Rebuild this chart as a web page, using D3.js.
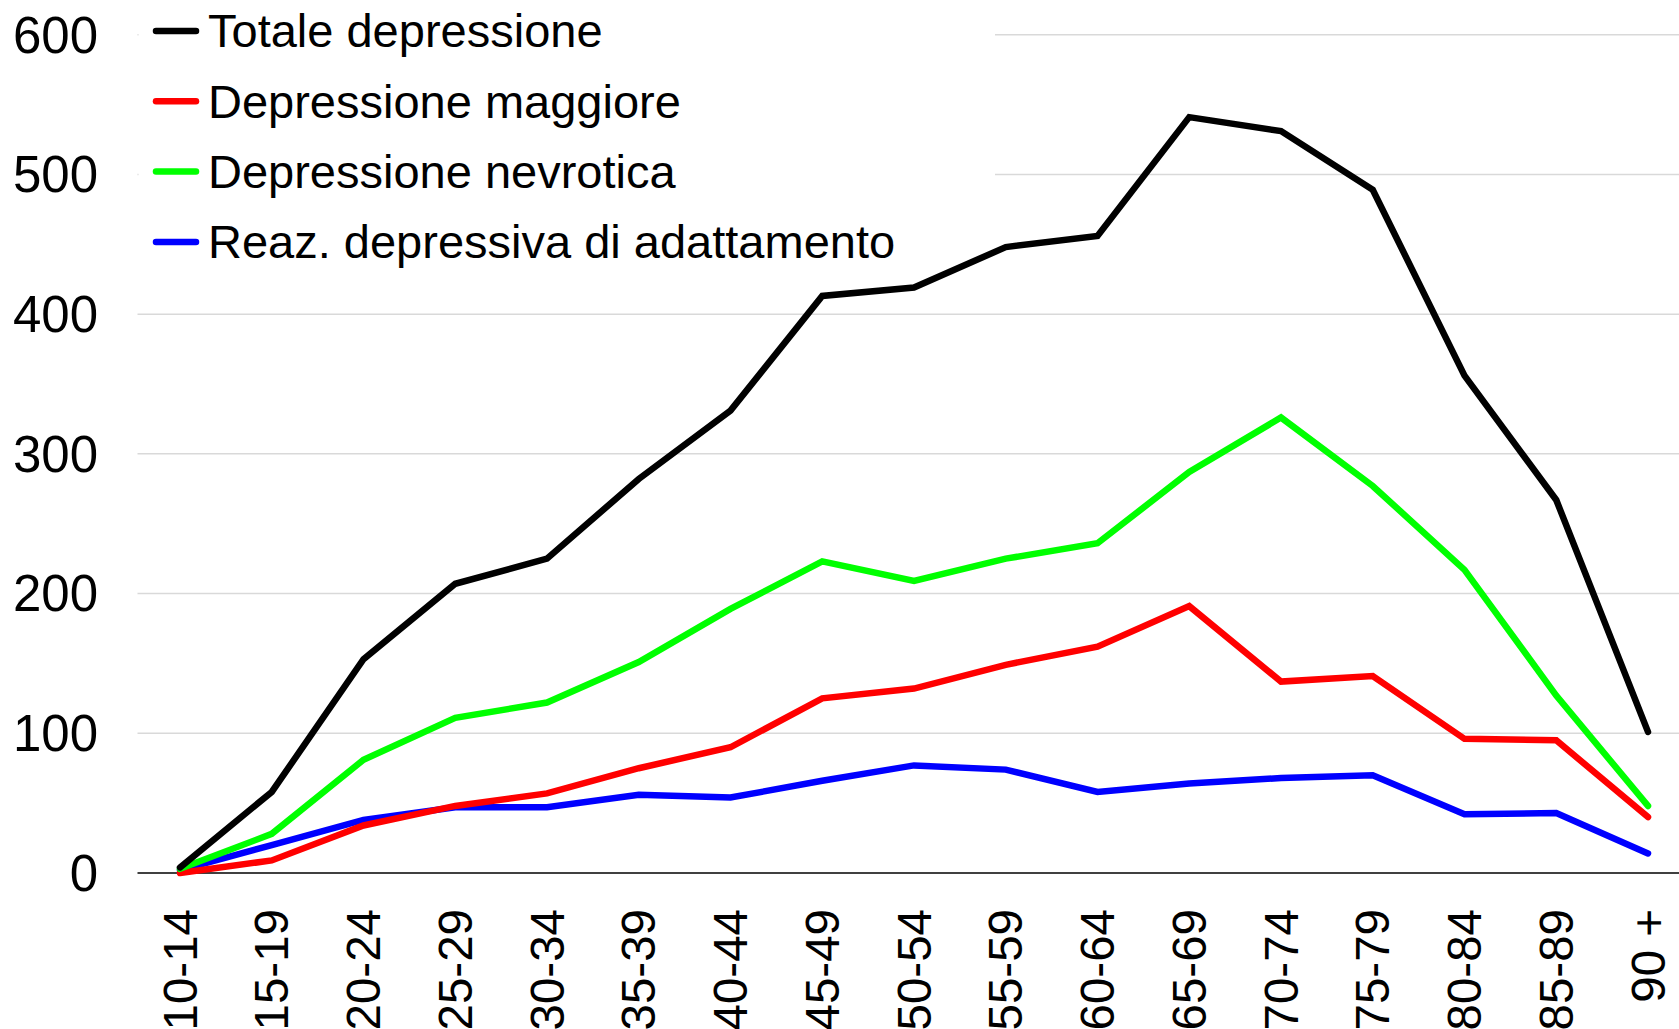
<!DOCTYPE html>
<html>
<head>
<meta charset="utf-8">
<script src="https://cdn.jsdelivr.net/npm/d3@7"></script>
<style>
html,body{margin:0;padding:0;background:#fff;}
svg{display:block;font-family:"Liberation Sans",Arial,sans-serif;}
</style>
</head>
<body>
<svg id="chart" width="1679" height="1029"></svg>
<script>
const categories = ["10-14","15-19","20-24","25-29","30-34","35-39","40-44","45-49","50-54","55-59","60-64","65-69","70-74","75-79","80-84","85-89","90 +"];
const totale     = [4, 58, 153, 207, 225, 282, 331, 413, 419, 448, 456, 541, 531, 489, 356, 267, 101];
const maggiore   = [0, 9, 34, 48, 57, 75, 90, 125, 132, 149, 162, 191, 137, 141, 96, 95, 40];
const nevrotica  = [3, 28, 81, 111, 122, 151, 189, 223, 209, 225, 236, 287, 326, 277, 217, 127, 48];
const adattamento= [2, 20, 38, 47, 47, 56, 54, 66, 77, 74, 58, 64, 68, 70, 42, 43, 14];
const seriesNames = ["Totale depressione","Depressione maggiore","Depressione nevrotica","Reaz. depressiva di adattamento"];
const seriesColors = ["#000000","#ff0000","#00ff00","#0000ff"];
const yTicks = [0,100,200,300,400,500,600];

const series = [totale, maggiore, nevrotica, adattamento];
const svg = d3.select("#chart");

const x = d3.scalePoint().domain(categories).range([180, 1648]);
const y = d3.scaleLinear().domain([0, 600]).range([873, 34.7]);
const plotLeft = 137.5, plotRight = 1679;

// gridlines
svg.append("g").selectAll("line").data(yTicks.filter(d => d > 0)).join("line")
  .attr("x1", plotLeft).attr("x2", plotRight)
  .attr("y1", d => y(d)).attr("y2", d => y(d))
  .attr("stroke", "#d9d9d9").attr("stroke-width", 1.5);

// y tick labels
svg.append("g").selectAll("text").data(yTicks).join("text")
  .attr("x", 98).attr("y", d => y(d)).attr("dy", "0.35em")
  .attr("text-anchor", "end").attr("font-size", 51).attr("fill", "#000")
  .text(d => d);

// zero axis
svg.append("line").attr("x1", plotLeft).attr("x2", plotRight)
  .attr("y1", y(0)).attr("y2", y(0)).attr("stroke", "#404040").attr("stroke-width", 2);

// x labels
svg.append("g").selectAll("text").data(categories).join("text")
  .attr("transform", d => `translate(${x(d)},909) rotate(-90)`)
  .attr("text-anchor", "end").attr("dy", "0.35em")
  .attr("font-size", 47.5).attr("fill", "#000")
  .text(d => d);

// legend background
svg.append("rect").attr("x", plotLeft + 1).attr("y", 0).attr("width", 995 - plotLeft - 1).attr("height", 270).attr("fill", "#fff");

// lines
const line = d3.line().x((d, i) => x(categories[i])).y(d => y(d));
const order = [3, 1, 2, 0];
svg.append("g").selectAll("path").data(order).join("path")
  .attr("d", k => line(series[k]))
  .attr("fill", "none").attr("stroke", k => seriesColors[k])
  .attr("stroke-width", 6.5).attr("stroke-linejoin", "miter").attr("stroke-linecap", "round");

// legend
const lg = svg.append("g").selectAll("g").data(seriesNames).join("g")
  .attr("transform", (d, i) => `translate(0,${31 + i * 70.3})`);
lg.append("line").attr("x1", 156).attr("x2", 196).attr("y1", 0).attr("y2", 0)
  .attr("stroke", (d, i) => seriesColors[i]).attr("stroke-width", 6.5).attr("stroke-linecap", "round");
lg.append("text").attr("x", 208).attr("y", 0).attr("dy", "0.35em")
  .attr("font-size", 47).attr("fill", "#000").text(d => d);
</script>
</body>
</html>
